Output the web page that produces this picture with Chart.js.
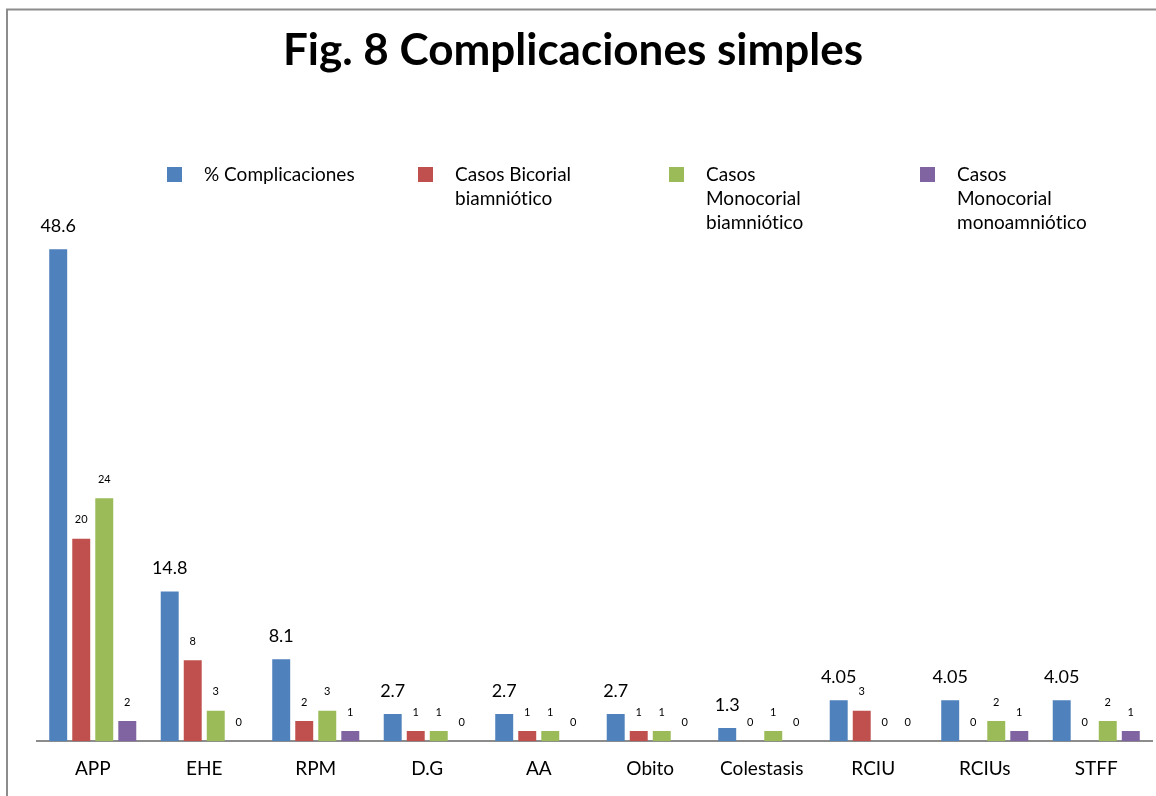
<!DOCTYPE html>
<html>
<head>
<meta charset="utf-8">
<script src="https://cdn.jsdelivr.net/npm/chart.js@4.4.1/dist/chart.umd.min.js"></script>
<style>
  html, body { margin: 0; padding: 0; background: #fff; overflow: hidden; }
  canvas { display: block; }
</style>
</head>
<body>
<canvas id="chart" width="1156" height="796"></canvas>
<script>
// Categories and series
const chartTitle = 'Fig. 8 Complicaciones simples';
const categories = ['APP', 'EHE', 'RPM', 'D.G', 'AA', 'Obito', 'Colestasis', 'RCIU', 'RCIUs', 'STFF'];
const seriesNames = ['% Complicaciones', 'Casos Bicorial biamniótico', 'Casos Monocorial biamniótico', 'Casos Monocorial monoamniótico'];
// Legend lines for each series name
const legendLines = [
  ['% Complicaciones'],
  ['Casos Bicorial', 'biamniótico'],
  ['Casos', 'Monocorial', 'biamniótico'],
  ['Casos', 'Monocorial', 'monoamniótico']
];
const pctComplicaciones = [48.6, 14.8, 8.1, 2.7, 2.7, 2.7, 1.3, 4.05, 4.05, 4.05];
const casosBicorialBi = [20, 8, 2, 1, 1, 1, 0, 3, 0, 0];
const casosMonocorialBi = [24, 3, 3, 1, 1, 1, 1, 0, 2, 2];
const casosMonocorialMono = [2, 0, 1, 0, 0, 0, 0, 0, 1, 1];
const seriesColors = ['#4F81BD', '#C0504D', '#9BBB59', '#8064A2'];

const FONT = 'Lato, "Open Sans", sans-serif';

// Outer frame (top and left edges visible)
const frame = {
  id: 'frame',
  beforeDraw(chart) {
    const ctx = chart.ctx;
    ctx.save();
    ctx.strokeStyle = '#8c8c8c';
    ctx.lineWidth = 2;
    ctx.strokeRect(7, 9.5, 1200, 900);
    ctx.restore();
  }
};

// Title centred on the frame
const frameTitle = {
  id: 'frameTitle',
  afterDraw(chart) {
    const ctx = chart.ctx;
    ctx.save();
    ctx.font = 'bold 44px ' + FONT;
    ctx.fillStyle = '#000';
    ctx.textAlign = 'center';
    ctx.textBaseline = 'middle';
    ctx.fillText(chartTitle, 573, 51);
    ctx.restore();
  }
};

// Value labels above every bar
const valueLabels = {
  id: 'valueLabels',
  afterDatasetsDraw(chart) {
    const ctx = chart.ctx;
    chart.data.datasets.forEach((ds, i) => {
      const meta = chart.getDatasetMeta(i);
      const big = i === 0;
      ctx.save();
      ctx.font = (big ? 18 : 11) + 'px ' + FONT;
      ctx.fillStyle = '#000';
      ctx.textAlign = 'center';
      ctx.textBaseline = 'middle';
      meta.data.forEach((bar, j) => {
        ctx.fillText(String(ds.data[j]), bar.x, bar.y - (big ? 23 : 19));
      });
      ctx.restore();
    });
  }
};

// Legend row with multi-line series names
const wrappedLegend = {
  id: 'wrappedLegend',
  afterDraw(chart) {
    const ctx = chart.ctx;
    ctx.save();
    ctx.font = '19px ' + FONT;
    if ('letterSpacing' in ctx) ctx.letterSpacing = '0.01px';
    ctx.textAlign = 'left';
    ctx.textBaseline = 'middle';
    chart.data.datasets.forEach((ds, i) => {
      const x = 167 + i * 251;
      const y = 167;
      ctx.fillStyle = ds.backgroundColor;
      ctx.fillRect(x, y, 15, 15);
      ctx.fillStyle = '#000';
      legendLines[i].forEach((line, k) => {
        ctx.fillText(line, x + 37, y + 8 + k * 24);
      });
    });
    ctx.restore();
  }
};

const seriesData = [pctComplicaciones, casosBicorialBi, casosMonocorialBi, casosMonocorialMono];

new Chart(document.getElementById('chart'), {
  type: 'bar',
  data: {
    labels: categories,
    datasets: seriesNames.map((name, i) => ({
      label: name,
      data: seriesData[i],
      backgroundColor: seriesColors[i],
      borderWidth: 0,
      categoryPercentage: 0.826,
      barPercentage: 0.78
    }))
  },
  options: {
    responsive: false,
    animation: false,
    layout: { padding: { left: 37, right: 4, top: 134, bottom: 0 } },
    plugins: {
      legend: { display: false },
      tooltip: { enabled: false },
      title: { display: false }
    },
    scales: {
      x: {
        grid: { display: false, drawTicks: false },
        border: { display: true, color: '#8c8c8c', width: 2 },
        ticks: { color: '#000', font: { family: FONT, size: 19 }, padding: 16, maxRotation: 0, autoSkip: false }
      },
      y: {
        display: false,
        min: 0,
        max: 60
      }
    }
  },
  plugins: [frame, frameTitle, valueLabels, wrappedLegend]
});
</script>
</body>
</html>
